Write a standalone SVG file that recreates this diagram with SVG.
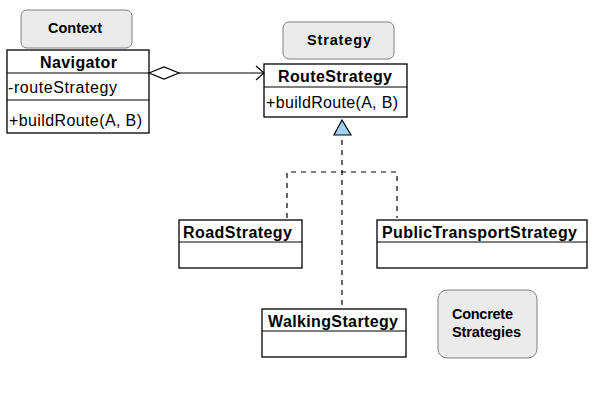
<svg xmlns="http://www.w3.org/2000/svg" width="601" height="403" viewBox="0 0 601 403">
<style>
.cls{fill:#fff;stroke:#000;stroke-width:1.3}
.div{stroke:#000;stroke-width:1.2}
.note{fill:#ebebeb;stroke:#808080;stroke-width:1}
.t{font-family:"Liberation Sans",Arial,sans-serif;font-size:16px;fill:#000}
.b{font-weight:bold}
.n{font-family:"Liberation Sans",Arial,sans-serif;font-size:14.5px;font-weight:bold;fill:#000}
.dash{fill:none;stroke:#000;stroke-width:1.2;stroke-dasharray:5,5}
</style>
<rect width="601" height="403" fill="#fff"/>
<g id="note-context">
<rect class="note" x="21" y="10" width="111" height="38" rx="6"/>
<text class="n" x="48" y="33" textLength="54">Context</text>
</g>
<g id="note-strategy">
<rect class="note" x="283" y="22" width="111" height="37" rx="6"/>
<text class="n" x="307" y="45" textLength="64">Strategy</text>
</g>
<g id="note-concrete">
<rect class="note" x="438" y="290" width="99" height="68" rx="9"/>
<text class="n" x="452" y="319" textLength="61">Concrete</text>
<text class="n" x="452" y="337" textLength="69">Strategies</text>
</g>
<g id="navigator">
<rect class="cls" x="7" y="50" width="142" height="83"/>
<line class="div" x1="7" y1="73" x2="149" y2="73"/>
<line class="div" x1="7" y1="100" x2="149" y2="100"/>
<text class="t b" x="40" y="68" textLength="77">Navigator</text>
<text class="t" x="8" y="93" textLength="109">-routeStrategy</text>
<text class="t" x="9" y="126" textLength="133">+buildRoute(A, B)</text>
</g>
<g id="routestrategy">
<rect class="cls" x="264" y="64" width="143" height="53"/>
<line class="div" x1="264" y1="87" x2="407" y2="87"/>
<text class="t b" x="278" y="82" textLength="114">RouteStrategy</text>
<text class="t" x="266" y="108" textLength="132">+buildRoute(A, B)</text>
</g>
<g id="roadstrategy">
<rect class="cls" x="179" y="220" width="123" height="48"/>
<line class="div" x1="179" y1="242" x2="302" y2="242"/>
<text class="t b" x="183" y="238" textLength="109">RoadStrategy</text>
</g>
<g id="publictransportstrategy">
<rect class="cls" x="377" y="220" width="210" height="48"/>
<line class="div" x1="377" y1="242" x2="587" y2="242"/>
<text class="t b" x="382" y="238" textLength="195">PublicTransportStrategy</text>
</g>
<g id="walkingstartegy">
<rect class="cls" x="262" y="309" width="144" height="48"/>
<line class="div" x1="262" y1="331" x2="406" y2="331"/>
<text class="t b" x="268" y="327" textLength="130">WalkingStartegy</text>
</g>
<g id="connectors">
<polygon points="149,73 164,67 179,73 164,79" fill="#fff" stroke="#000" stroke-width="1.2"/>
<line x1="179" y1="73" x2="264" y2="73" stroke="#000" stroke-width="1.2"/>
<polyline points="256,66 264,73 256,80" fill="none" stroke="#000" stroke-width="1.1"/>
<polygon points="342,120 351,135 334,135" fill="#9fd3ee" stroke="#000" stroke-width="1.2"/>
<line class="dash" x1="342" y1="140" x2="342" y2="309"/>
<polyline class="dash" points="287,218 287,172 397,172 397,218"/>
</g>
</svg>
